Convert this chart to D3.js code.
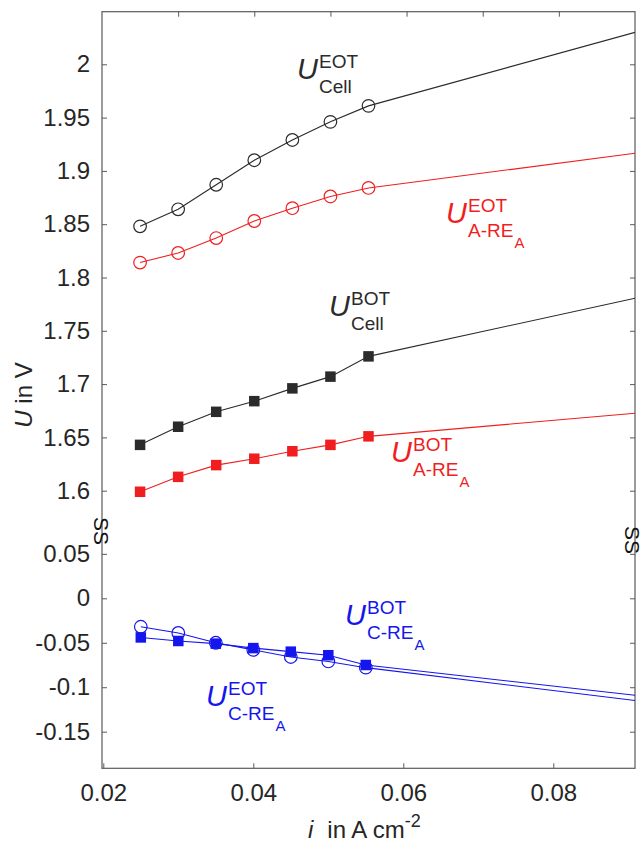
<!DOCTYPE html>
<html>
<head>
<meta charset="utf-8">
<script src="https://cdn.jsdelivr.net/npm/d3@7"></script>
<style>
  html, body { margin: 0; padding: 0; background: #fff; }
  svg { display: block; font-family: "Liberation Sans", Arial, Helvetica, sans-serif; }
</style>
</head>
<body>
<svg id="chart" width="644" height="844"></svg>
<script>
// ---------------- data ----------------
const currentDensity = [0.025, 0.03, 0.035, 0.04, 0.045, 0.05, 0.055];

const uCellEOT = [1.848, 1.864, 1.887, 1.910, 1.929, 1.946, 1.961];
const uARE_EOT = [1.814, 1.823, 1.837, 1.853, 1.865, 1.876, 1.884];
const uCellBOT = [1.643, 1.660, 1.674, 1.684, 1.696, 1.707, 1.726];
const uARE_BOT = [1.599, 1.613, 1.624, 1.630, 1.637, 1.643, 1.651];
const uCRE_EOT = [-0.032, -0.039, -0.050, -0.058, -0.066, -0.071, -0.078];
const uCRE_BOT = [-0.044, -0.048, -0.051, -0.056, -0.060, -0.064, -0.075];

// straight extension of each curve to the right edge
const extUpperI = 0.09;
const extLowerI = 0.0909;
const extCellEOT = 2.030;
const extARE_EOT = 1.9165;
const extCellBOT = 1.7805;
const extARE_BOT = 1.6726;
const extCRE_EOT = -0.115;
const extCRE_BOT = -0.109;

const upperYTicks = [1.6, 1.65, 1.7, 1.75, 1.8, 1.85, 1.9, 1.95, 2];
const upperYLabels = ["1.6", "1.65", "1.7", "1.75", "1.8", "1.85", "1.9", "1.95", "2"];
const lowerYTicks = [-0.15, -0.1, -0.05, 0, 0.05];
const lowerYLabels = ["-0.15", "-0.1", "-0.05", "0", "0.05"];
const xTicksBottom = [0.02, 0.04, 0.06, 0.08];
const xLabelsBottom = ["0.02", "0.04", "0.06", "0.08"];
const xTicksTop = [0.03, 0.04, 0.05, 0.06, 0.07, 0.08];

// ---------------- layout ----------------
const L = 102, R = 635, T = 11.7, B = 768.3, BRK = 531;
const FONT = 24;
const axisColor = "#5a5a5a";
const textColor = "#262626";
const cBlack = "#2b2b2b", cRed = "#f01e1e", cBlue = "#1515ee";

const svg = d3.select("#chart");
svg.append("rect").attr("width", 644).attr("height", 844).attr("fill", "#fff");

// scales (upper & lower panels of the broken axis)
const xU = d3.scaleLinear().domain([0.02, 0.09]).range([L, R]);
const xL = d3.scaleLinear().domain([0.02, 0.08]).range([103.3, 553.3]);
const yU = d3.scaleLinear().domain([1.6, 2.0]).range([490.7, 64.3]);
const yLo = d3.scaleLinear().domain([-0.15, 0]).range([731.7, 598.3]);

const defs = svg.append("defs");
defs.append("clipPath").attr("id", "clipU").append("rect")
  .attr("x", L).attr("y", T).attr("width", R - L).attr("height", BRK - T);
defs.append("clipPath").attr("id", "clipL").append("rect")
  .attr("x", L).attr("y", BRK).attr("width", R - L).attr("height", B - BRK);

// ---------------- axes ----------------
const ax = svg.append("g");
function yAxis(scale, ticks, labels) {
  const gl = ax.append("g").attr("transform", `translate(${L},0)`)
    .call(d3.axisLeft(scale).tickValues(ticks).tickFormat((d, i) => labels[i]).tickSizeInner(-5).tickSizeOuter(0).tickPadding(12));
  gl.select(".domain").remove();
  gl.selectAll(".tick line").attr("stroke", axisColor);
  gl.selectAll(".tick text").attr("fill", textColor).attr("font-size", FONT).attr("font-family", null);
  const gr = ax.append("g").attr("transform", `translate(${R},0)`)
    .call(d3.axisRight(scale).tickValues(ticks).tickFormat("").tickSizeInner(-5).tickSizeOuter(0));
  gr.select(".domain").remove();
  gr.selectAll(".tick line").attr("stroke", axisColor);
}
yAxis(yU, upperYTicks, upperYLabels);
yAxis(yLo, lowerYTicks, lowerYLabels);

const gb = ax.append("g").attr("transform", `translate(0,${B})`)
  .call(d3.axisBottom(xL).tickValues(xTicksBottom).tickFormat((d, i) => xLabelsBottom[i]).tickSizeInner(-5).tickSizeOuter(0).tickPadding(16));
gb.select(".domain").remove();
gb.selectAll(".tick line").attr("stroke", axisColor);
gb.selectAll(".tick text").attr("fill", textColor).attr("font-size", FONT).attr("font-family", null);

const gt = ax.append("g").attr("transform", `translate(0,${T})`)
  .call(d3.axisTop(xU).tickValues(xTicksTop).tickFormat("").tickSizeInner(-5).tickSizeOuter(0));
gt.select(".domain").remove();
gt.selectAll(".tick line").attr("stroke", axisColor);

ax.append("rect").attr("x", L).attr("y", T).attr("width", R - L).attr("height", B - T)
  .attr("fill", "none").attr("stroke", axisColor).attr("stroke-width", 1.2);

// ---------------- series ----------------
function series(xs, ys, extX, extY, color, marker, panel) {
  const xS = panel === "U" ? xU : xL;
  const yS = panel === "U" ? yU : yLo;
  const pts = xs.map((x, i) => [x, ys[i]]);
  const g = svg.append("g").attr("clip-path", `url(#clip${panel})`);
  g.append("path")
    .datum(pts.concat([[extX, extY]]))
    .attr("fill", "none").attr("stroke", color).attr("stroke-width", 1.1)
    .attr("d", d3.line().x(d => xS(d[0])).y(d => yS(d[1])));
  if (marker === "circle") {
    g.selectAll("circle").data(pts).join("circle")
      .attr("cx", d => xS(d[0])).attr("cy", d => yS(d[1])).attr("r", 6.3)
      .attr("fill", "none").attr("stroke", color).attr("stroke-width", 1.2);
  } else {
    const s = 10.5;
    g.selectAll("rect").data(pts).join("rect")
      .attr("x", d => xS(d[0]) - s / 2).attr("y", d => yS(d[1]) - s / 2)
      .attr("width", s).attr("height", s).attr("fill", color);
  }
}
series(currentDensity, uCellEOT, extUpperI, extCellEOT, cBlack, "circle", "U");
series(currentDensity, uARE_EOT, extUpperI, extARE_EOT, cRed, "circle", "U");
series(currentDensity, uCellBOT, extUpperI, extCellBOT, cBlack, "square", "U");
series(currentDensity, uARE_BOT, extUpperI, extARE_BOT, cRed, "square", "U");
series(currentDensity, uCRE_EOT, extLowerI, extCRE_EOT, cBlue, "circle", "L");
series(currentDensity, uCRE_BOT, extLowerI, extCRE_BOT, cBlue, "square", "L");

// ---------------- axis break symbols ----------------
function breakMark(x, y) {
  svg.append("text").attr("transform", `translate(${x},${y}) rotate(90)`)
    .attr("text-anchor", "middle").attr("dy", "0.36em")
    .attr("font-size", 21).attr("fill", "#111").text("SS");
}
breakMark(L, 531);
breakMark(R - 2, 540);

// ---------------- curve labels ----------------
function curveLabel(x, y, sup, sub, subsub, color) {
  const g = svg.append("g").attr("fill", color);
  g.append("text").attr("x", x).attr("y", y).attr("font-size", 29)
    .attr("font-style", "italic").text("U");
  const ux = x + 22;
  g.append("text").attr("x", ux).attr("y", y - 11).attr("font-size", 19).text(sup);
  const st = g.append("text").attr("x", ux).attr("y", y + 14).attr("font-size", 19).text(sub);
  if (subsub) {
    const w = st.node().getComputedTextLength();
    g.append("text").attr("x", ux + w + 1).attr("y", y + 25).attr("font-size", 15).text(subsub);
  }
}
curveLabel(297, 79, "EOT", "Cell", null, cBlack);
curveLabel(446, 223, "EOT", "A-RE", "A", cRed);
curveLabel(329, 316, "BOT", "Cell", null, cBlack);
curveLabel(391, 462, "BOT", "A-RE", "A", cRed);
curveLabel(345, 625, "BOT", "C-RE", "A", cBlue);
curveLabel(206, 706, "EOT", "C-RE", "A", cBlue);

// ---------------- axis titles ----------------
const yl = svg.append("text").attr("transform", "translate(32,395) rotate(-90)")
  .attr("text-anchor", "middle").attr("font-size", FONT).attr("fill", textColor);
yl.append("tspan").attr("font-style", "italic").text("U");
yl.append("tspan").text(" in V");

const xl = svg.append("text").attr("x", 308).attr("y", 838)
  .attr("font-size", FONT).attr("fill", textColor);
xl.append("tspan").attr("font-style", "italic").text("i");
xl.append("tspan").attr("dx", 14).text("in A cm");
xl.append("tspan").attr("dy", -11).attr("font-size", 18).text("-2");
</script>
</body>
</html>
